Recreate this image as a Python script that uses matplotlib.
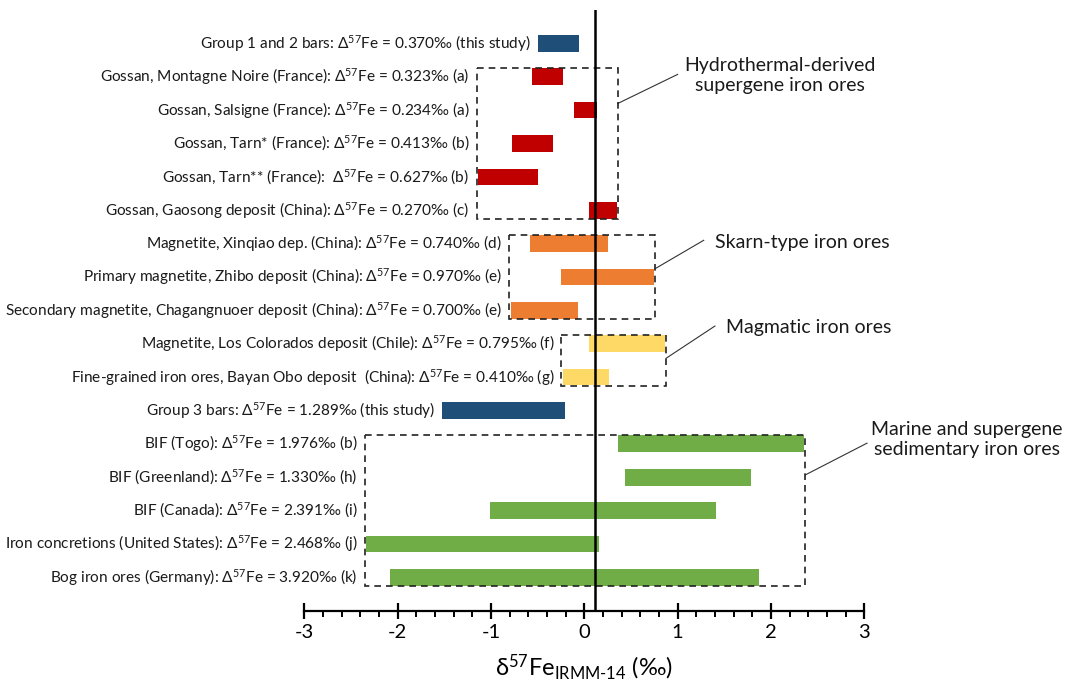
import matplotlib.pyplot as plt
import numpy as np
from matplotlib.patches import Rectangle

plt.rcParams['font.family'] = ['Lato', 'DejaVu Sans']
plt.rcParams['mathtext.fontset'] = 'custom'
plt.rcParams['mathtext.rm'] = 'Lato'
plt.rcParams['mathtext.it'] = 'Lato:italic'
plt.rcParams['mathtext.bf'] = 'Lato:bold'
plt.rcParams['axes.unicode_minus'] = False

labels = [
    r"Group 1 and 2 bars: $\Delta^{57}$Fe = 0.370‰ (this study)",
    r"Gossan, Montagne Noire (France): $\Delta^{57}$Fe = 0.323‰ (a)",
    r"Gossan, Salsigne (France): $\Delta^{57}$Fe = 0.234‰ (a)",
    r"Gossan, Tarn* (France): $\Delta^{57}$Fe = 0.413‰ (b)",
    r"Gossan, Tarn** (France):  $\Delta^{57}$Fe = 0.627‰ (b)",
    r"Gossan, Gaosong deposit (China): $\Delta^{57}$Fe = 0.270‰ (c)",
    r"Magnetite, Xinqiao dep. (China): $\Delta^{57}$Fe = 0.740‰ (d)",
    r"Primary magnetite, Zhibo deposit (China): $\Delta^{57}$Fe = 0.970‰ (e)",
    r"Secondary magnetite, Chagangnuoer deposit (China): $\Delta^{57}$Fe = 0.700‰ (e)",
    r"Magnetite, Los Colorados deposit (Chile): $\Delta^{57}$Fe = 0.795‰ (f)",
    r"Fine-grained iron ores, Bayan Obo deposit  (China): $\Delta^{57}$Fe = 0.410‰ (g)",
    r"Group 3 bars: $\Delta^{57}$Fe = 1.289‰ (this study)",
    r"BIF (Togo): $\Delta^{57}$Fe = 1.976‰ (b)",
    r"BIF (Greenland): $\Delta^{57}$Fe = 1.330‰ (h)",
    r"BIF (Canada): $\Delta^{57}$Fe = 2.391‰ (i)",
    r"Iron concretions (United States): $\Delta^{57}$Fe = 2.468‰ (j)",
    r"Bog iron ores (Germany): $\Delta^{57}$Fe = 3.920‰ (k)",
]
lows = np.array([-0.50, -0.56, -0.11, -0.77, -1.14, 0.05, -0.58, -0.25, -0.79,
                 0.05, -0.23, -1.52, 0.36, 0.44, -1.01, -2.34, -2.08])
highs = np.array([-0.06, -0.23, 0.14, -0.34, -0.50, 0.35, 0.25, 0.75, -0.07,
                  0.87, 0.26, -0.21, 2.36, 1.79, 1.41, 0.16, 1.87])
groups = ["study", "hydro", "hydro", "hydro", "hydro", "hydro",
          "skarn", "skarn", "skarn", "magmatic", "magmatic", "study",
          "marine", "marine", "marine", "marine", "marine"]
ref_line = 0.115

colors = {"study": "#1F4E79", "hydro": "#C00000", "skarn": "#ED7D31",
          "magmatic": "#FFD966", "marine": "#70AD47"}

# callout text, leader start row, leader end (x, row), text (x, row), alignment
callouts = {
    "hydro": ("Hydrothermal-derived\nsupergene iron ores", 1.80, (1.00, 0.93), (2.10, 0.97), "center"),
    "skarn": ("Skarn-type iron ores", 6.75, (1.28, 5.90), (1.40, 5.96), "left"),
    "magmatic": ("Magmatic iron ores", 9.43, (1.40, 8.47), (1.52, 8.50), "left"),
    "marine": ("Marine and supergene\nsedimentary iron ores", 12.93, (3.03, 11.98), (4.10, 11.87), "center"),
}

fig = plt.figure(figsize=(10.77, 6.88), dpi=100)
ax = fig.add_axes([304.4 / 1077, 77.3 / 688, 559.8 / 1077, 600.7 / 688])

rows = np.arange(len(labels))
ax.barh(rows, highs - lows, left=lows, height=0.5,
        color=[colors[g] for g in groups], zorder=2)

box_left = {}
box_right = {}
for g in callouts:
    idx = [i for i, x in enumerate(groups) if x == g]
    x0 = lows[idx].min() - 0.015
    x1 = highs[idx].max() + 0.01
    y0 = min(idx) - 0.26
    y1 = max(idx) + 0.26
    ax.add_patch(Rectangle((x0, y0), x1 - x0, y1 - y0, fill=False,
                           ls=(0, (4, 3)), lw=1.2, ec="#222222", zorder=3))
    box_left[g] = x0
    box_right[g] = x1

for i, lab in enumerate(labels):
    g = groups[i]
    x = box_left.get(g, lows[i])
    ax.annotate(lab, (x, i), xytext=(-5, 0), textcoords="offset points",
                ha="right", va="center", fontsize=11.1, color="#1a1a1a")

for g, (txt, ys, (xe, ye), (xt, yt), ha) in callouts.items():
    ax.plot([box_right[g], xe], [ys, ye], color="#333333", lw=0.8, clip_on=False)
    ax.text(xt, yt, txt, ha=ha, va="center", fontsize=14, color="#1a1a1a",
            linespacing=1.25)

ax.axvline(ref_line, color="black", lw=1.8, zorder=4)

ax.set_xlim(-3, 3)
ax.set_ylim(17, -1.0)
ax.set_yticks([])
for s in ["left", "top", "right"]:
    ax.spines[s].set_visible(False)
ax.spines["bottom"].set_linewidth(1.6)
ax.set_xticks(range(-3, 4))
ax.set_xticks(np.arange(-3, 3.01, 0.2), minor=True)
ax.tick_params(axis="x", which="major", direction="inout", length=11, width=1.6,
               labelsize=14.5, pad=4)
ax.tick_params(axis="x", which="minor", direction="out", length=4, width=1.4)
ax.set_xlabel(r"δ$^{57}$Fe$_{\text{IRMM-14}}$ (‰)", fontsize=17, labelpad=8)

fig.savefig("out.png", dpi=100)
